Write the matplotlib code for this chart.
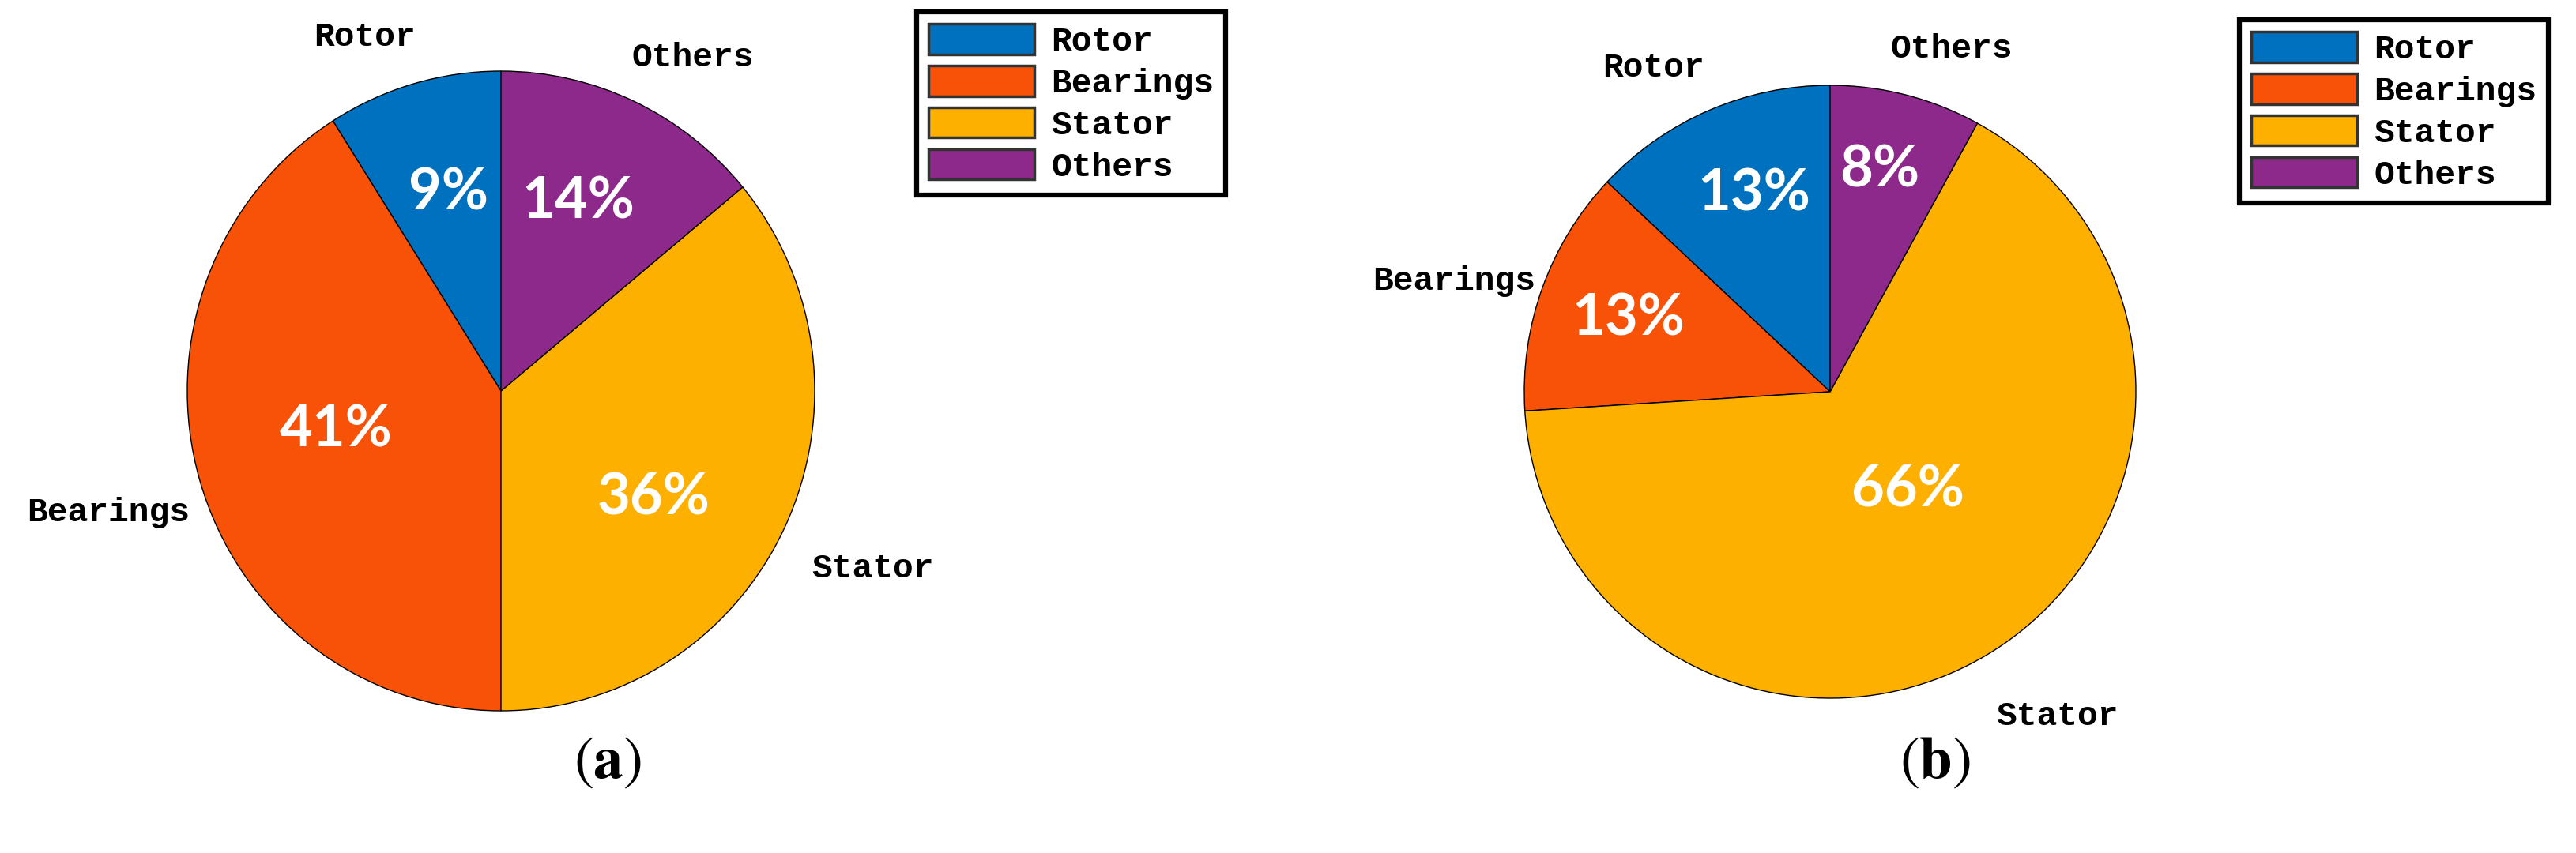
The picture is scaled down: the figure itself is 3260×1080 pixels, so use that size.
import numpy as np
import matplotlib
matplotlib.use("Agg")
import matplotlib.pyplot as plt
from matplotlib.font_manager import FontProperties

labels = ["Rotor", "Bearings", "Stator", "Others"]
share_a = [9, 41, 36, 14]
share_b = [13, 13, 66, 8]
colors = ["#0071BF", "#F85108", "#FDB000", "#8E298C"]

W, H = 3260, 1080
fig = plt.figure(figsize=(W / 100, H / 100), dpi=100)
plt.rcParams["mathtext.fontset"] = "stix"

mono = FontProperties(family="Liberation Mono", weight="bold", size=31)
pctfont = FontProperties(family="Lato", weight="bold", size=52)


def px_axes(cx, cy, rx, ry):
    # pie axes placed in pixel units of the full picture
    return fig.add_axes([(cx - rx) / W, 1 - (cy + ry) / H, 2 * rx / W, 2 * ry / H])


def draw_pie(ax, vals, pct_r, pct_dth):
    wedges, texts, autotexts = ax.pie(
        vals, labels=labels, colors=colors, startangle=90, counterclock=True,
        autopct="%.0f%%", pctdistance=1.0, labeldistance=1.2,
        wedgeprops=dict(edgecolor="black", linewidth=1.0))
    for t in texts:
        x, y = t.get_position()
        t.set_position((x + 0.1 * np.sign(x), y - 0.045))
        t.set_ha("center")
        t.set_va("center")
        t.set_fontproperties(mono)
        t.set_color("black")
    for w, t, r, dth in zip(wedges, autotexts, pct_r, pct_dth):
        th = np.deg2rad((w.theta1 + w.theta2) / 2 + dth)
        t.set_position((r * np.cos(th), r * np.sin(th)))
        t.set_fontproperties(pctfont)
        t.set_color("white")
        t.set_ha("center")
        t.set_va("center")
    ax.set_aspect("auto")
    ax.set_xlim(-1, 1)
    ax.set_ylim(-1, 1)
    return wedges


def add_legend(ax, wedges, x, y):
    leg = ax.legend(wedges, labels, loc="upper left", bbox_to_anchor=(x / W, 1 - y / H),
                    bbox_transform=fig.transFigure, prop=mono, frameon=True,
                    fancybox=False, edgecolor="black", framealpha=1,
                    handlelength=3.1, handleheight=1.0, labelspacing=0.23,
                    borderpad=0.35, handletextpad=0.5, borderaxespad=0)
    leg.get_frame().set_linewidth(4.5)
    for p in leg.get_patches():
        p.set_linewidth(2.5)
        p.set_edgecolor("#333333")


ax1 = px_axes(634, 495, 397, 405)
w1 = draw_pie(ax1, share_a, [0.64, 0.54, 0.59, 0.64], [-1, -3, -9.4, 2.6])
add_legend(ax1, w1, 1160, 15)

ax2 = px_axes(2316, 496, 387, 388)
w2 = draw_pie(ax2, share_b, [0.69, 0.70, 0.41, 0.74], [-2.3, 0, 6, 1.8])
add_legend(ax2, w2, 2834, 25)

fig.text(769 / W, 1 - 964 / H, r"$(\mathbf{a})$", fontsize=54, ha="center", va="center")
fig.text(2449 / W, 1 - 964 / H, r"$(\mathbf{b})$", fontsize=54, ha="center", va="center")

fig.savefig("out.png", dpi=100)
